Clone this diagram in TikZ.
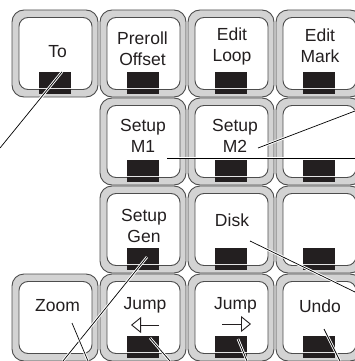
\documentclass[tikz,border=0pt]{standalone}
\usepackage{fontspec}
\setmainfont{Liberation Sans}
\usetikzlibrary{calc,arrows.meta}
\definecolor{keygray}{HTML}{D3D3D3}
\definecolor{keyline}{HTML}{4D4D4D}
\definecolor{lampblack}{HTML}{231F20}
\definecolor{textgray}{HTML}{231F20}

\begin{document}
\begin{tikzpicture}[x=1pt, y=-1pt,
    keyo/.style = {draw=keyline, fill=keygray, line width=0.9pt, rounded corners=12pt,
                   minimum width=86pt, minimum height=87pt, inner sep=0pt},
    keyi/.style = {draw=keyline, fill=white, line width=0.9pt, rounded corners=9pt,
                   minimum width=73pt, minimum height=72pt, inner sep=0pt},
    lamp/.style = {fill=lampblack, minimum width=32pt, minimum height=22pt, inner sep=0pt},
    lbl/.style = {text=textgray, align=center, font=\fontsize{17.5}{21}\selectfont, inner sep=0pt},
    callout/.style = {black, line width=0.7pt, preaction={draw=white, line width=2.6pt}},
    jumparrow/.style = {textgray, line width=0.9pt,
                        -{Triangle[open, length=10pt, width=16pt, line width=0.9pt]}}]
        \useasboundingbox (0,0) rectangle (355,361);
        \clip (0,0) rectangle (355,361);

        % keys
        \foreach \c/\r in {0/0,1/0,2/0,3/0,1/1,2/1,3/1,1/2,2/2,3/2,0/3,1/3,2/3,3/3} {
            \node[keyo] (k\c\r) at ({55+88*\c},{53.5+88*\r}) {};
            \node[keyi] (i\c\r) at ([xshift=0.5pt]k\c\r.center) {};
        }

        % lamps (none on Zoom)
        \foreach \k in {00,10,20,30,11,21,31,12,22,32,13,23,33} {
            \node[lamp] (l\k) at ($(k\k)+(0,29.5)$) {};
            \draw[keygray!60, line width=0.8pt] ($(l\k.west)+(0,5.5)$) -- ($(l\k.east)+(0,5.5)$);
        }

        % labels
        \node[lbl] (to) at (57.5,52) {To};
        \node[lbl] (preroll) at (142.5,49) {Preroll\\Offset};
        \node[lbl] (loop) at (232,46) {Edit\\Loop};
        \node[lbl] (mark) at (320,46) {Edit\\Mark};
        \node[lbl] (m1) at (143,136) {Setup\\M1};
        \node[lbl] (m2) at (235,136) {Setup\\M2};
        \node[lbl] (gen) at (144,226) {Setup\\Gen};
        \node[lbl] (disk) at (232,220) {Disk};
        \node[lbl] (zoom) at (57.5,306) {Zoom};
        \node[lbl] (jumpl) at (145,305) {Jump};
        \node[lbl] (jumpr) at (235.5,305) {Jump};
        \node[lbl] (undo) at (320,306) {Undo};

        \draw[jumparrow] (159,325) -- (131,325);
        \draw[jumparrow] (222,324) -- (251,324);

        % callout lines
        \coordinate (e1) at (0,148);
        \coordinate (s2) at (258,148);
        \coordinate (e2) at (355,111);
        \coordinate (s3) at (167,158);
        \coordinate (e3) at (355,158);
        \coordinate (s4) at (250,241);
        \coordinate (e4) at (355,292);
        \coordinate (e5) at (63,361);
        \coordinate (s6) at (72,323);
        \coordinate (e6) at (88,361);
        \coordinate (e7) at (170,361);
        \coordinate (e8) at (247,361);
        \coordinate (s9) at (324,329);
        \coordinate (e9) at (340,361);

        \draw[callout] ($(l00.north)+(7,0)$) -- (e1);
        \draw[callout] (s2) -- (e2);
        \draw[callout] (s3) -- (e3);
        \draw[callout] (s4) -- (e4);
        \draw[callout] ($(l12.center)+(4,-2)$) -- (e5);
        \draw[callout] (s6) -- (e6);
        \draw[callout] ($(l13.center)+(7,-9)$) -- (e7);
        \draw[callout] ($(l23.center)+(7,-8)$) -- (e8);
        \draw[callout] (s9) -- (e9);
\end{tikzpicture}
\end{document}
